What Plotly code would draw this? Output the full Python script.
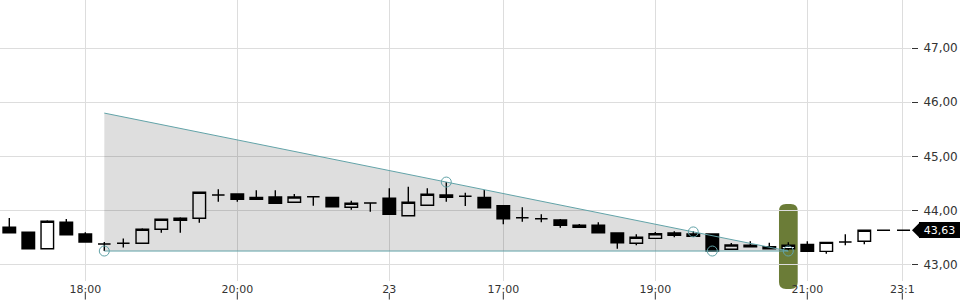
import plotly.graph_objects as go

# ---- data (15-minute candles, index = candle slot) ----
open_ = [43.685, 43.593, 43.289, 43.778, 43.561, 43.376, 43.39, 43.39, 43.648, 43.815,
         43.852, 44.283, 44.302, 44.204, 44.246, 44.148, 44.252, 44.24, 44.056, 44.135,
         44.222, 43.90, 44.093, 44.283, 44.259, 44.24, 44.085, 43.863, 43.844, 43.82,
         43.722, 43.722, 43.58, 43.389, 43.481, 43.537, 43.519, 43.561, 43.278, 43.352,
         43.326, 43.289, 43.37, 43.24, 43.413, 43.426]
high_ = [43.857, 43.593, 43.815, 43.839, 43.593, 43.413, 43.48, 43.667, 43.833, 43.87,
         44.333, 44.389, 44.302, 44.37, 44.37, 44.302, 44.252, 44.24, 44.178, 44.135,
         44.407, 44.437, 44.407, 44.523, 44.326, 44.376, 44.09, 44.056, 43.926, 43.839,
         43.746, 43.778, 43.58, 43.556, 43.598, 43.611, 43.61, 43.574, 43.394, 43.426,
         43.40, 43.407, 43.426, 43.407, 43.556, 43.63]
low_ = [43.585, 43.289, 43.289, 43.548, 43.40, 43.246, 43.31, 43.39, 43.585, 43.585,
        43.77, 44.159, 44.159, 44.204, 44.13, 44.148, 44.085, 44.067, 44.011, 43.974,
        43.926, 43.90, 44.093, 44.159, 44.08, 44.048, 43.74, 43.789, 43.778, 43.678,
        43.685, 43.585, 43.289, 43.352, 43.481, 43.50, 43.519, 43.246, 43.278, 43.326,
        43.289, 43.26, 43.24, 43.196, 43.352, 43.37]
close_ = [43.585, 43.289, 43.796, 43.548, 43.413, 43.376, 43.39, 43.648, 43.833, 43.852,
          44.333, 44.283, 44.204, 44.24, 44.13, 44.246, 44.252, 44.067, 44.13, 44.135,
          43.926, 44.148, 44.296, 44.24, 44.259, 44.048, 43.844, 43.863, 43.844, 43.722,
          43.685, 43.585, 43.40, 43.50, 43.567, 43.58, 43.561, 43.246, 43.357, 43.326,
          43.289, 43.352, 43.24, 43.407, 43.413, 43.63]
slots = list(range(len(open_)))

x_tick_slots = [4, 12, 20, 26, 34, 42, 47]
x_tick_labels = ["18:00", "20:00", "23", "17:00", "19:00", "21:00", "23:1"]
y_tick_vals = [43, 44, 45, 46, 47]
y_tick_labels = ["43,00", "44,00", "45,00", "46,00", "47,00"]

# triangle pattern (resistance / support) and touch points
res_x = [5, 41]
res_y = [45.80, 43.246]
sup_x = [5, 41]
sup_y = [43.246, 43.246]
touch_x = [5, 23, 36, 37, 41]
touch_y = [43.246, 44.523, 43.60, 43.246, 43.246]

last_price = 43.63
last_label = "43,63"
highlight_slot = 41

X_RANGE = [-0.4895, 47.458]
Y_RANGE = [42.691, 47.894]

TEAL = "#62a3a8"
TXT = "#333333"
GRID = "#dddddd"

fig = go.Figure()

# shaded triangle
fig.add_trace(go.Scatter(
    x=[sup_x[0], res_x[0], res_x[1], sup_x[0]],
    y=[sup_y[0], res_y[0], res_y[1], sup_y[0]],
    mode="lines", fill="toself", fillcolor="rgba(0,0,0,0.13)",
    line=dict(width=0), hoverinfo="skip", showlegend=False))
fig.add_trace(go.Scatter(x=res_x, y=res_y, mode="lines",
                         line=dict(color=TEAL, width=1), showlegend=False))
fig.add_trace(go.Scatter(x=sup_x, y=sup_y, mode="lines",
                         line=dict(color=TEAL, width=1), showlegend=False))

# candles
fig.add_trace(go.Candlestick(
    x=slots, open=open_, high=high_, low=low_, close=close_,
    increasing=dict(line=dict(color="black", width=1.4), fillcolor="white"),
    decreasing=dict(line=dict(color="black", width=1.4), fillcolor="black"),
    whiskerwidth=0, showlegend=False))

# touch circles
fig.add_trace(go.Scatter(x=touch_x, y=touch_y, mode="markers",
                         marker=dict(symbol="circle-open", size=10,
                                     color=TEAL, line=dict(width=1)),
                         showlegend=False))

# last price dashed line
fig.add_trace(go.Scatter(x=[45.67, 47.45], y=[last_price, last_price], mode="lines",
                         line=dict(color="black", width=1.5, dash="13px,7px"),
                         showlegend=False))

# highlight (rounded rectangle)
x0, x1 = highlight_slot - 0.49, highlight_slot + 0.495
yt, yb = 0.274, -0.0285
rx, ry = 7 / 19, 7 / 281
path = (f"M {x0+rx},{yt} L {x1-rx},{yt} Q {x1},{yt} {x1},{yt-ry} "
        f"L {x1},{yb+ry} Q {x1},{yb} {x1-rx},{yb} L {x0+rx},{yb} "
        f"Q {x0},{yb} {x0},{yb+ry} L {x0},{yt-ry} Q {x0},{yt} {x0+rx},{yt} Z")
shapes = [dict(type="path", path=path, xref="x", yref="paper",
               fillcolor="#6b7c37", line=dict(width=0), layer="between")]

# x tick marks below labels
for t in x_tick_slots:
    shapes.append(dict(type="line", xref="x", yref="paper", x0=t, x1=t,
                       y0=-0.043, y1=-0.066, line=dict(color=TXT, width=1)))

# last price tag pointer (paper coordinates, value mapped through the y range)
py = (last_price - Y_RANGE[0]) / (Y_RANGE[1] - Y_RANGE[0])
h = 8 / 281
tip, rl = 912 / 911, 920 / 911
shapes.append(dict(type="path", xref="paper", yref="paper",
                   path=f"M {tip},{py} L {rl},{py+h} L {rl},{py-h} Z",
                   fillcolor="black", line=dict(width=0), layer="above"))

fig.update_layout(
    width=960, height=300, autosize=False,
    margin=dict(l=0, r=49, t=0, b=19),
    paper_bgcolor="white", plot_bgcolor="white",
    font=dict(family="DejaVu Sans", color=TXT),
    shapes=shapes, boxgap=0.34, boxgroupgap=0, showlegend=False,
    annotations=[dict(xref="paper", yref="paper", x=919 / 911, y=py,
                      xanchor="left", yanchor="middle",
                      width=41, height=16, align="center", valign="middle",
                      bgcolor="black", borderpad=0, borderwidth=0,
                      text=last_label, showarrow=False,
                      font=dict(family="DejaVu Sans", size=11, color="white"))],
    xaxis=dict(range=X_RANGE, tickmode="array", tickvals=x_tick_slots,
               ticktext=x_tick_labels, showgrid=True, gridcolor=GRID, gridwidth=1,
               zeroline=False, showline=False, ticks="", rangeslider=dict(visible=False),
               tickfont=dict(size=11, color=TXT), fixedrange=True),
    yaxis=dict(range=Y_RANGE, side="right", tickmode="array", tickvals=y_tick_vals,
               ticktext=y_tick_labels, showgrid=True, gridcolor=GRID, gridwidth=1,
               zeroline=False, showline=False, ticks="outside", ticklen=6,
               ticklabelstandoff=3,
               tickcolor=TXT, tickfont=dict(size=12, color=TXT)),
)

fig.write_html("out.html")
